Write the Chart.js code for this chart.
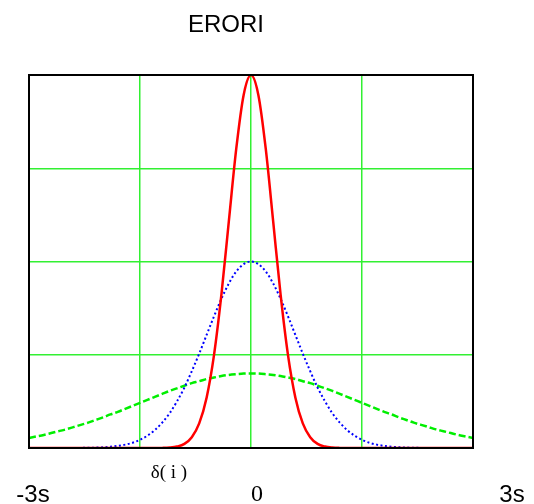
<!DOCTYPE html>
<html>
<head>
<meta charset="utf-8">
<script src="https://cdn.jsdelivr.net/npm/chart.js@4.4.1/dist/chart.umd.min.js"></script>
<style>
  html, body { margin: 0; padding: 0; background: white; }
  #wrap { width: 534px; height: 504px; }
</style>
</head>
<body>
<div id="wrap"><canvas id="line-chart"></canvas></div>
<script>

// valores del eje x (de -3s a 3s)
const xs = [-3.0,-2.9,-2.8,-2.7,-2.6,-2.5,-2.4,-2.3,-2.2,-2.1,-2.0,-1.9,-1.8,-1.7,-1.6,-1.5,-1.4,-1.3,-1.2,-1.1,-1.0,
    -0.9,-0.8,-0.7,-0.6,-0.5,-0.4,-0.3,-0.2,-0.1,0,0.1,0.2,0.3,0.4,0.5,0.6,0.7,0.8,0.9,
    1.0,1.1,1.2,1.3,1.4,1.5,1.6,1.7,1.8,1.9,2.0,2.1,2.2,2.3,2.4,2.5,2.6,2.7,2.8,2.9,3.0];

// curva roja (continua)
const red = [0,0,0,0,0,0,0,0,0,0,0,0,0,0,0,0,0,
    0.0001,0.0003,0.0012,0.0039,0.011,0.029,0.066,0.135,0.249,0.411,0.607,0.801,0.946,
    1,
    0.946,0.801,0.607,0.411,0.249,0.135,0.066,0.029,0.011,0.0039,0.0012,0.0003,0.0001,
    0,0,0,0,0,0,0,0,0,0,0,0,0,0,0,0,0];

// curva azul (punteada)
const blue = [0,0,0,0,0,
    0.0001,0.0002,0.0003,0.0006,0.0011,0.0019,0.0033,0.0056,0.009,0.014,0.022,0.033,0.048,0.068,0.093,
    0.125,0.162,0.206,0.253,0.303,0.353,0.400,0.441,0.473,0.493,
    0.5,
    0.493,0.473,0.441,0.400,0.353,0.303,0.253,0.206,0.162,0.125,
    0.093,0.068,0.048,0.033,0.022,0.014,0.009,0.0056,0.0033,0.0019,0.0011,0.0006,0.0003,0.0002,0.0001,
    0,0,0,0,0];

// curva verde (discontinua)
const green = [0.027,0.031,0.035,0.040,0.045,0.050,0.056,0.062,0.068,0.075,0.082,0.090,0.097,0.105,0.113,
    0.121,0.129,0.137,0.145,0.153,0.160,0.167,0.174,0.179,0.185,0.189,0.193,0.196,0.198,0.1996,
    0.2,
    0.1996,0.198,0.196,0.193,0.189,0.185,0.179,0.174,0.167,0.160,0.153,0.145,0.137,0.129,0.121,
    0.113,0.105,0.097,0.090,0.082,0.075,0.068,0.062,0.056,0.050,0.045,0.040,0.035,0.031,0.027];

const titleText = 'ERORI';
const xLabels = ['-3s', '0', '3s'];
const curveLabel = 'δ( i )';

function points(ys) {
    return xs.map((x, i) => ({ x: x, y: ys[i] }));
}

// marco negro y textos
const extras = {
    id: 'extras',
    afterDatasetsDraw(chart) {
        const ctx = chart.ctx;
        const a = chart.chartArea;
        const sx = chart.scales.x;
        ctx.save();
        ctx.strokeStyle = 'black';
        ctx.lineWidth = 2;
        ctx.strokeRect(a.left, a.top, a.right - a.left, a.bottom - a.top);

        ctx.fillStyle = 'black';
        ctx.textAlign = 'center';
        ctx.textBaseline = 'middle';
        ctx.font = '24px "Liberation Sans", Arial, sans-serif';
        ctx.fillText(titleText, 226, 25);
        ctx.fillText(xLabels[0], sx.getPixelForValue(-3) + 4, 495);
        ctx.fillText(xLabels[2], sx.getPixelForValue(3) + 39, 495);
        ctx.font = '24px "Liberation Serif", "Times New Roman", serif';
        ctx.fillText(xLabels[1], sx.getPixelForValue(0) + 6, 495);
        ctx.font = '19px "Liberation Serif", "Times New Roman", serif';
        ctx.fillText(curveLabel, 169, 473);
        ctx.restore();
    }
};

new Chart(document.getElementById('line-chart'), {
    type: 'line',
    data: {
        datasets: [
            {
                label: 'rojo',
                data: points(red),
                borderColor: '#ff0000',
                borderWidth: 2.5,
                pointRadius: 0,
                cubicInterpolationMode: 'monotone'
            },
            {
                label: 'azul',
                data: points(blue),
                borderColor: '#0000ff',
                borderWidth: 2,
                borderDash: [2, 2.5],
                pointRadius: 0,
                cubicInterpolationMode: 'monotone'
            },
            {
                label: 'verde',
                data: points(green),
                borderColor: '#00ee00',
                borderWidth: 2.5,
                borderDash: [7, 3],
                pointRadius: 0,
                cubicInterpolationMode: 'monotone'
            }
        ]
    },
    options: {
        responsive: true,
        maintainAspectRatio: false,
        animation: false,
        layout: {
            padding: { left: 29, top: 75, right: 61, bottom: 56 }
        },
        plugins: {
            legend: { display: false },
            tooltip: { enabled: false }
        },
        scales: {
            x: {
                type: 'linear',
                min: -3,
                max: 3,
                ticks: { display: false, stepSize: 1.5 },
                grid: { color: 'rgb(50,240,50)', lineWidth: 1.5, drawTicks: false },
                border: { display: false }
            },
            y: {
                min: 0,
                max: 1,
                ticks: { display: false, stepSize: 0.25 },
                grid: { color: 'rgb(50,240,50)', lineWidth: 1.5, drawTicks: false },
                border: { display: false }
            }
        }
    },
    plugins: [extras]
});

</script>
</body>
</html>
